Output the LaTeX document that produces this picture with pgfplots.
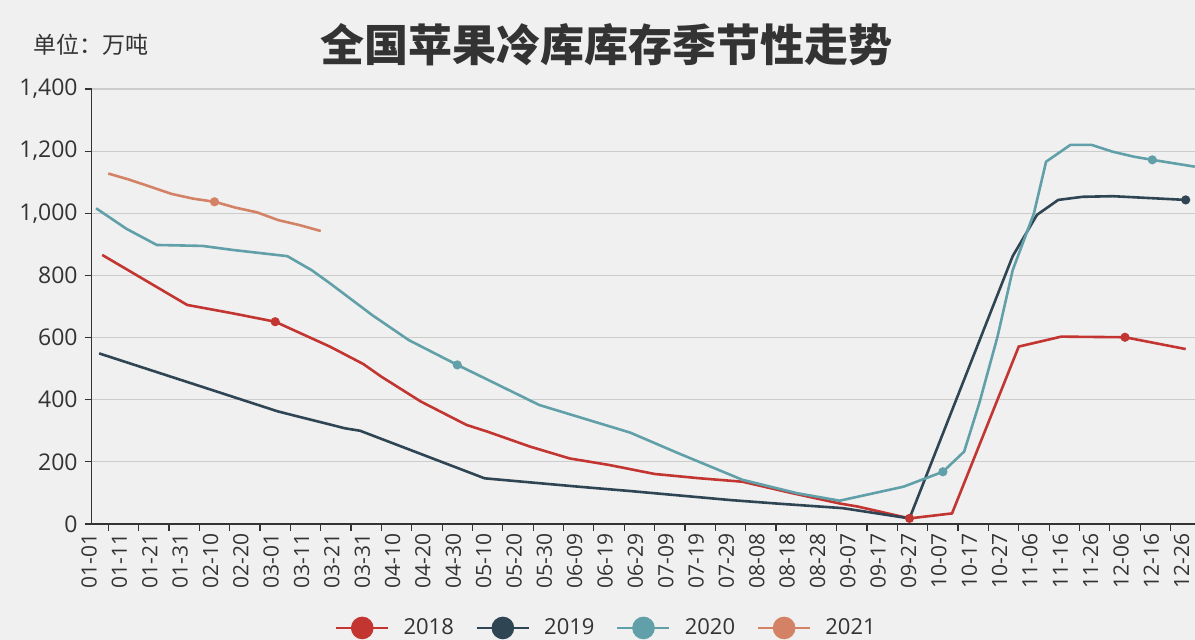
\documentclass[border=0pt]{standalone}
\usepackage{fontspec}
\setmainfont{Open Sans}
\newfontfamily\cjk{Noto Sans CJK SC}
\usepackage{pgfplots}
\pgfplotsset{compat=1.18}

\definecolor{bg}{HTML}{F0F0F0}
\definecolor{c2018}{HTML}{C23531}
\definecolor{c2019}{HTML}{2F4554}
\definecolor{c2020}{HTML}{61A0A8}
\definecolor{c2021}{HTML}{D48265}
\definecolor{txt}{HTML}{333333}
\definecolor{gridc}{HTML}{CCCCCC}

\begin{document}
\begin{tikzpicture}[x=0.5pt,y=0.5pt]
\fill[bg] (0,0) rectangle (1195,640);
\useasboundingbox (0,0) rectangle (1195,640);
\node[font=\cjk\bfseries\fontsize{22}{26}\selectfont, text=txt] at (606,595) {全国苹果冷库库存季节性走势};
\node[anchor=west, font=\cjk\fontsize{11.5}{13}\selectfont, text=txt] at (26,595) {单位：万吨};
\begin{axis}[
  at={(45.85pt,58pt)}, anchor=south west,
  scale only axis, width=551.65pt, height=217.5pt,
  xmin=-0.46, xmax=363.07, ymin=0, ymax=1400,
  axis x line*=bottom, axis y line*=left,
  axis line style={draw=txt, line width=0.7pt, -},
  ytick={0,200,...,1400},
  ymajorgrids, grid style={gridc, line width=0.6pt},
  tick align=outside, major tick length=3.5pt,
  tick style={draw=txt, line width=0.6pt},
  xtick={5,15,...,355}, xticklabels={},
  extra x ticks={0,10,...,360},
  extra x tick labels={01-01,01-11,01-21,01-31,02-10,02-20,03-01,03-11,03-21,03-31,04-10,04-20,04-30,05-10,05-20,05-30,06-09,06-19,06-29,07-09,07-19,07-29,08-08,08-18,08-28,09-07,09-17,09-27,10-07,10-17,10-27,11-06,11-16,11-26,12-06,12-16,12-26},
  extra x tick style={tick style={draw=none}},
  xticklabel style={rotate=90, anchor=east, yshift=2pt, inner sep=1pt, font=\fontsize{10.5}{12}\selectfont, text=txt},
  yticklabel style={font=\fontsize{11.5}{13}\selectfont, text=txt},
  /pgf/number format/1000 sep={,},
  /pgf/number format/assume math mode=true,
  legend columns=4,
  legend style={at={(0.4675,-0.239)}, anchor=center, draw=none, fill=none,
    font=\fontsize{11}{13}\selectfont, text=txt,
    /tikz/every even column/.append style={column sep=9pt}},
  legend image code/.code={\draw[#1, mark=none, line width=1pt] (0pt,0pt) -- (26pt,0pt); \fill[#1] (13pt,0pt) circle (5pt); \path (31pt,0pt);},
  every axis plot/.append style={line width=1.3pt, mark=*, mark size=1.6pt},
]
\addplot[color=c2018, mark indices={4,20,24}] coordinates {
(3,866) (31,705) (46,678) (60,651) (78,571) (89,515) (95,474) (108,394) (123,319)
(130,297) (144,249) (157,211) (170,190) (185,161) (200,147) (214,136) (230,100)
(246,66) (252,56) (269,18) (283,34) (305,571) (319,603) (340,601) (360,563)
};
\addlegendentry{2018}
\addplot[color=c2019, mark indices={17}] coordinates {
(2,549) (61,362) (83,308) (88,300) (129,147) (160,120) (177,106) (210,77) (225,66)
(247,51) (269,18) (303,862) (311,995) (318,1043) (326,1053) (336,1055) (360,1043)
};
\addlegendentry{2019}
\addplot[color=c2020, mark indices={11,20,31}] coordinates {
(1,1016) (11,950) (21,898) (36,895) (46,882) (64,862) (72,817) (78,775) (92,672)
(104,592) (120,512) (128,474) (147,383) (177,294) (193,227) (214,142) (232,99)
(246,75) (267,120) (280,168) (287,233) (292,389) (298,603) (303,817) (310,1000)
(314,1166) (322,1220) (329,1220) (336,1198) (343,1182) (349,1172) (363,1150)
};
\addlegendentry{2020}
\addplot[color=c2021, mark indices={6}] coordinates {
(5,1128) (12,1108) (19,1085) (26,1062) (33,1047) (40,1037) (47,1018) (54,1003)
(61,978) (68,962) (75,943)
};
\addlegendentry{2021}
\end{axis}
\end{tikzpicture}
\end{document}
